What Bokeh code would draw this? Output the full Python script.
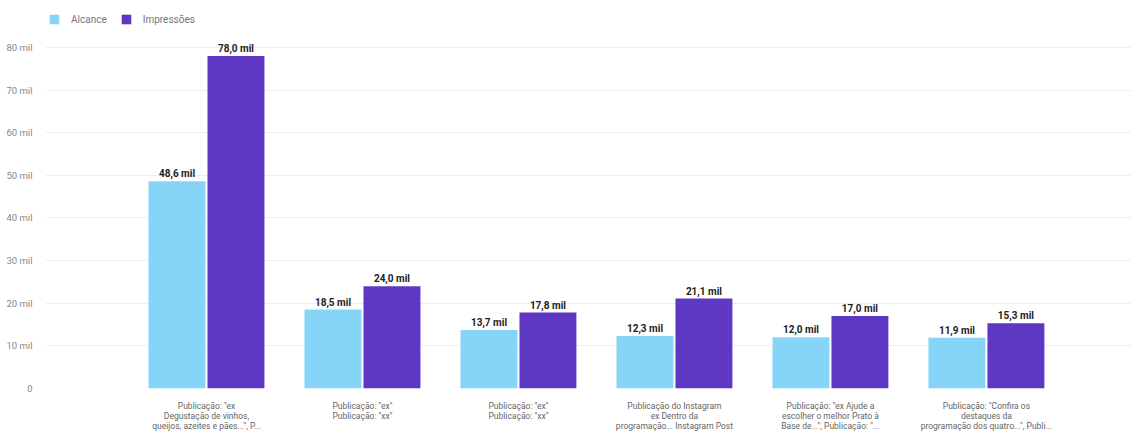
from bokeh.plotting import figure
from bokeh.models import ColumnDataSource, FixedTicker, Legend, LegendItem, Range1d
from bokeh.core.properties import value
from bokeh.embed import file_html
from bokeh.resources import INLINE

categories = [
    'Publicação: "ex\nDegustação de vinhos,\nqueijos, azeites e pães...", P...',
    'Publicação: "ex"\nPublicação: "xx"',
    'Publicação: "ex"\nPublicação: "xx"',
    'Publicação do Instagram\nex Dentro da\nprogramação... Instagram Post',
    'Publicação: "ex Ajude a\nescolher o melhor Prato à\nBase de...", Publicação: "...',
    'Publicação: "Confira os\ndestaques da\nprogramação dos quatro...", Publi...',
]
alcance = [48.6, 18.5, 13.7, 12.3, 12.0, 11.9]
impressoes = [78.0, 24.0, 17.8, 21.1, 17.0, 15.3]
y_ticks = [0, 10, 20, 30, 40, 50, 60, 70, 80]
y_tick_labels = ["0", "10 mil", "20 mil", "30 mil", "40 mil", "50 mil", "60 mil", "70 mil", "80 mil"]
series_names = ["Alcance", "Impressões"]
colors = ["#87D4F9", "#5E37C2"]

def fmt(v):
    return ("%.1f mil" % v).replace(".", ",")

xs = list(range(len(categories)))
off = 0.189
w = 0.365
src_a = ColumnDataSource(dict(x=[x - off for x in xs], top=alcance, lab=[fmt(v) for v in alcance]))
src_i = ColumnDataSource(dict(x=[x + off for x in xs], top=impressoes, lab=[fmt(v) for v in impressoes]))

FONT = "Roboto"
p = figure(width=1131, height=434, output_backend="svg", toolbar_location=None,
           x_range=Range1d(-1.032, 5.930), y_range=Range1d(0, 91.0),
           min_border_left=45, min_border_right=0, min_border_top=0, min_border_bottom=46)
p.outline_line_color = None
p.background_fill_color = "white"

r1 = p.vbar(x="x", top="top", width=w, source=src_a, color=colors[0], line_color=None)
r2 = p.vbar(x="x", top="top", width=w, source=src_i, color=colors[1], line_color=None)

for s in (src_a, src_i):
    p.text(x="x", y="top", text="lab", source=s, text_align="center", text_baseline="bottom",
           y_offset=-2, text_font=value(FONT), text_font_style="bold",
           text_font_size="10px", text_color="#222222")

p.xaxis.ticker = FixedTicker(ticks=xs)
p.xaxis.major_label_overrides = {i: c for i, c in enumerate(categories)}
p.xaxis.major_label_text_font = FONT
p.xaxis.major_label_text_font_size = "8.5px"
p.xaxis.major_label_text_line_height = 1.0
p.xaxis.major_label_text_color = "#666666"
p.xaxis.major_label_standoff = 6
p.xaxis.axis_line_color = None
p.xaxis.major_tick_line_color = None
p.xaxis.minor_tick_line_color = None

p.yaxis.ticker = FixedTicker(ticks=y_ticks)
p.yaxis.major_label_overrides = {t: l for t, l in zip(y_ticks, y_tick_labels)}
p.yaxis.major_label_text_font = FONT
p.yaxis.major_label_text_font_size = "9.5px"
p.yaxis.major_label_text_color = "#888888"
p.yaxis.major_label_standoff = 7
p.yaxis.axis_line_color = None
p.yaxis.major_tick_line_color = None
p.yaxis.minor_tick_line_color = None

p.xgrid.grid_line_color = None
p.ygrid.grid_line_color = "#EEEEEE"

legend = Legend(items=[LegendItem(label=series_names[0], renderers=[r1]),
                       LegendItem(label=series_names[1], renderers=[r2])],
                orientation="horizontal", location=(3, 363),
                label_text_font=FONT, label_text_font_size="10px", label_text_color="#777777",
                glyph_width=12, glyph_height=12, label_standoff=11, spacing=13,
                padding=0, margin=0, background_fill_alpha=0, border_line_color=None)
p.add_layout(legend)

open("out.html", "w").write(file_html(p, INLINE))
